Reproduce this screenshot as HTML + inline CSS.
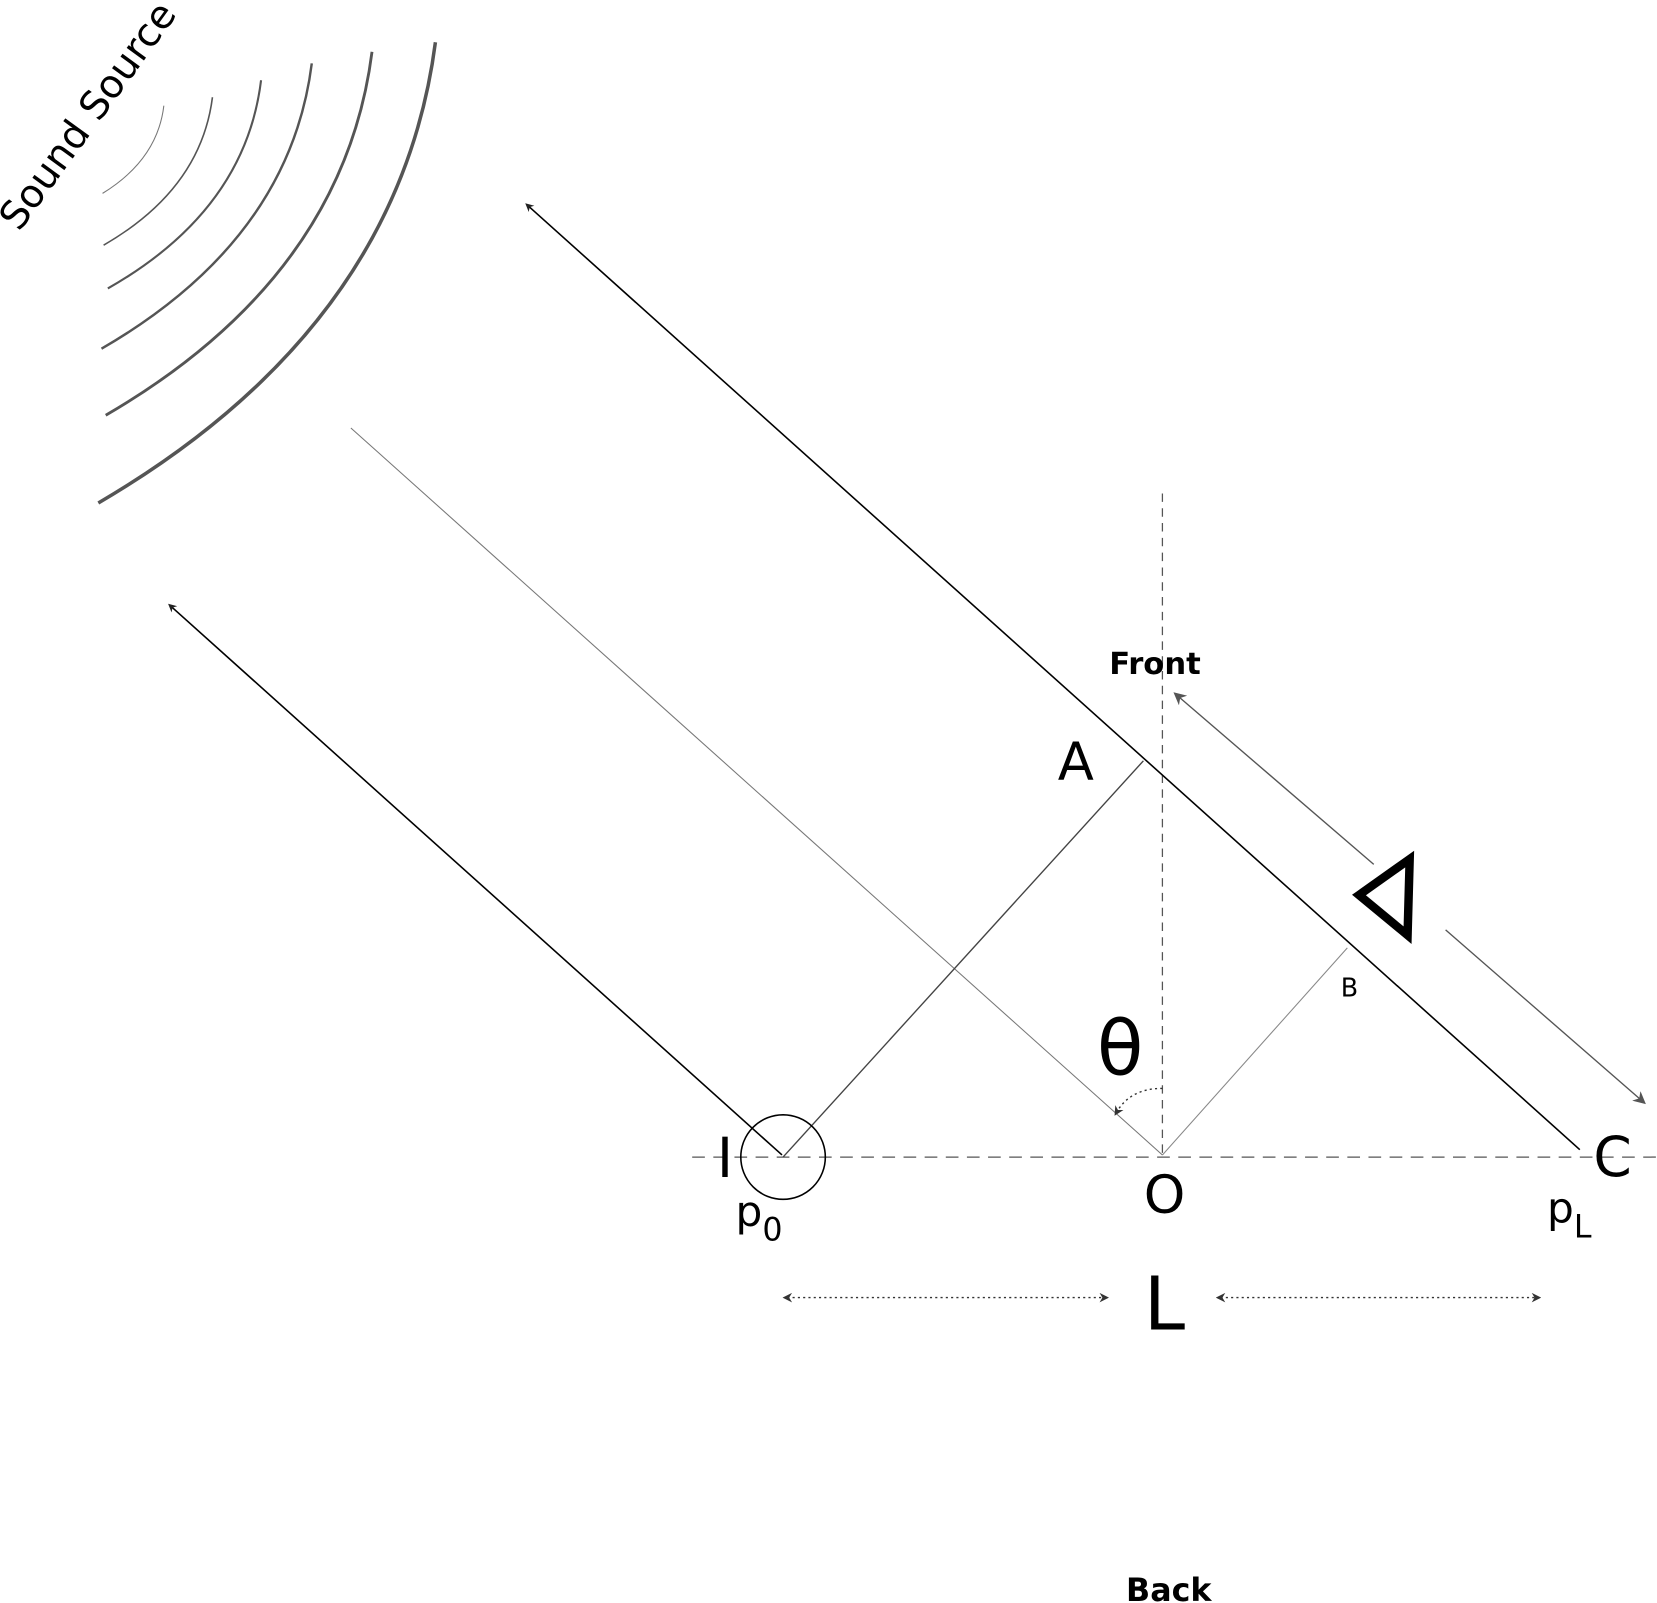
<!DOCTYPE html>
<html><head><meta charset="utf-8"><style>
html,body{margin:0;padding:0;background:#fff;}
svg{display:block;}
text{font-family:"DejaVu Sans","Liberation Sans",sans-serif;}
</style></head><body>
<svg width="1657" height="1603" viewBox="0 0 1568 1517" xmlns="http://www.w3.org/2000/svg">
<defs>
<marker id="ah" viewBox="0 0 10 10" refX="5" refY="5" markerWidth="8" markerHeight="8" orient="auto-start-reverse" markerUnits="userSpaceOnUse"><path d="M0,0 L10,5 L0,10 L3,5 z" fill="#222"/></marker>
<marker id="ahg" viewBox="0 0 10 10" refX="5" refY="5" markerWidth="12" markerHeight="12" orient="auto-start-reverse" markerUnits="userSpaceOnUse"><path d="M0,0 L10,5 L0,10 L3,5 z" fill="#555"/></marker>
<marker id="ahs" viewBox="0 0 10 10" refX="5" refY="5" markerWidth="9" markerHeight="9" orient="auto-start-reverse" markerUnits="userSpaceOnUse"><path d="M0,0 L10,5 L0,10 L3,5 z" fill="#333"/></marker>
</defs>
<g fill="none" stroke="#555">
<path d="M155,100 Q149,151 97,183" stroke-width="1" stroke="#777"/>
<path d="M201,92 Q190,179 98,232" stroke-width="1.5"/>
<path d="M247,76 Q232,199 102,273" stroke-width="2"/>
<path d="M295,60 Q274,227 96,330" stroke-width="2.3"/>
<path d="M352,49 Q325,262 100,393" stroke-width="2.7"/>
<path d="M412,40 Q377,310 93,476" stroke-width="3.3"/>
</g>
<text x="0" y="0" font-size="37" transform="translate(18,220) rotate(-54)">Sound Source</text>
<line x1="1100" y1="467" x2="1100" y2="1095" stroke="#555" stroke-width="1.2" stroke-dasharray="8,6"/>
<line x1="655" y1="1095" x2="1568" y2="1095" stroke="#555" stroke-width="1.2" stroke-dasharray="12,8"/>
<line x1="500" y1="195" x2="1495" y2="1088" stroke="#000" stroke-width="1.5" marker-start="url(#ah)"/>
<line x1="162" y1="574" x2="740" y2="1093" stroke="#000" stroke-width="1.5" marker-start="url(#ah)"/>
<line x1="332" y1="405" x2="1100" y2="1093" stroke="#777" stroke-width="1"/>
<line x1="1115" y1="659" x2="1300" y2="818" stroke="#555" stroke-width="1.3" marker-start="url(#ahg)"/>
<line x1="1368" y1="880" x2="1553" y2="1041" stroke="#555" stroke-width="1.3" marker-end="url(#ahg)"/>
<polygon points="1286,847 1334,813 1332,885" fill="none" stroke="#000" stroke-width="8" stroke-linejoin="miter"/>
<line x1="741" y1="1095" x2="1082" y2="720" stroke="#444" stroke-width="1.3"/>
<line x1="1100" y1="1093" x2="1275" y2="897" stroke="#888" stroke-width="1"/>
<circle cx="741" cy="1095" r="40" fill="none" stroke="#000" stroke-width="1.5"/>
<path d="M1100,1030 Q1070,1030 1057,1052" fill="none" stroke="#333" stroke-width="1.3" stroke-dasharray="2,3" marker-end="url(#ahs)"/>
<line x1="745" y1="1228" x2="1045" y2="1228" stroke="#333" stroke-width="1.3" stroke-dasharray="2,3" marker-start="url(#ahs)" marker-end="url(#ahs)"/>
<line x1="1155" y1="1228" x2="1454" y2="1228" stroke="#333" stroke-width="1.3" stroke-dasharray="2,3" marker-start="url(#ahs)" marker-end="url(#ahs)"/>
<text x="686" y="1114" font-size="52" text-anchor="middle">I</text>
<text x="1018" y="738" font-size="50" text-anchor="middle">A</text>
<text x="1102" y="1148" font-size="50" text-anchor="middle">O</text>
<text x="1526" y="1113" font-size="52" text-anchor="middle">C</text>
<text x="1277" y="943" font-size="24" text-anchor="middle">B</text>
<text x="1060" y="1017" font-size="72" text-anchor="middle">θ</text>
<text x="696" y="1160" font-size="40">p<tspan font-size="30" dy="14">0</tspan></text>
<text x="1464" y="1157" font-size="40">p<tspan font-size="30" dy="14">L</tspan></text>
<text x="1102" y="1258" font-size="70" text-anchor="middle">L</text>
<text x="1093" y="638" font-size="29" font-weight="bold" text-anchor="middle">Front</text>
<text x="1106" y="1515" font-size="30" font-weight="bold" text-anchor="middle">Back</text>
</svg>
</body></html>
